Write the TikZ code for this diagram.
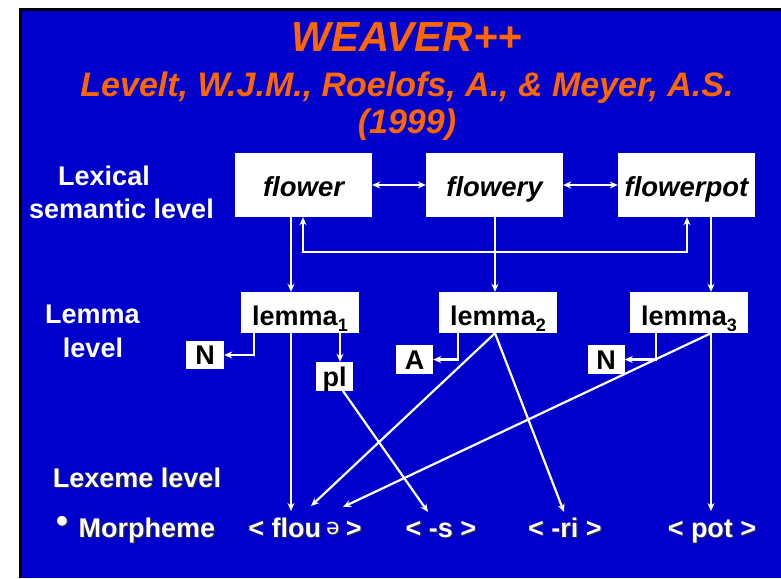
\documentclass[tikz,border=0pt]{standalone}
\usepackage{fontspec}
\setmainfont{Liberation Sans}
\newfontfamily\ipafont{DejaVu Sans}
\usetikzlibrary{arrows.meta}
\definecolor{bgblue}{RGB}{0,0,204}
\definecolor{ttlorange}{RGB}{255,102,0}
\newcommand\shd[1]{\rlap{\kern1.2pt\raisebox{-1.2pt}{\color{black!80}#1}}{#1}}
\newcommand\schwa{{\ipafont\mdseries\fontsize{22}{22}\selectfont\raisebox{2.5pt}{ə}}}
\begin{document}
\begin{tikzpicture}[x=1pt,y=-1pt,
  ttl/.style={text=ttlorange, inner sep=0pt, anchor=base},
  lvl/.style={text=white, font=\bfseries\fontsize{27}{30}\selectfont, inner sep=0pt, anchor=base},
  wordbox/.style={fill=white, inner sep=0pt, minimum width=137pt, minimum height=64pt,
    text height=24pt, text depth=2pt, font=\bfseries\itshape\fontsize{27.5}{30}\selectfont},
  lemmabox/.style={fill=white, inner sep=0pt, minimum width=118pt, minimum height=41pt,
    text height=27pt, text depth=2pt, font=\bfseries\fontsize{27}{30}\selectfont},
  tagbox/.style={fill=white, inner sep=0pt, minimum width=37pt, minimum height=29pt,
    text height=19.5pt, text depth=0pt, font=\bfseries\fontsize{27}{30}\selectfont},
  conn/.style={draw=white, line width=2.2pt, -{Stealth[length=8pt,width=7pt]}},
  dconn/.style={draw=white, line width=2.2pt, {Stealth[length=8pt,width=7pt]}-{Stealth[length=8pt,width=7pt]}},
]
% background and frame
\fill[white] (0,0) rectangle (781,578);
\fill[black] (19,8) rectangle (781,578);
\fill[bgblue] (22,11) rectangle (781,578);

% title
\node[ttl, font=\bfseries\itshape\fontsize{42}{42}\selectfont] (title) at (407,52) {WEAVER++};
\node[ttl, font=\bfseries\itshape\fontsize{34}{34}\selectfont] (authors) at (407,96) {Levelt, W.J.M., Roelofs, A., \& Meyer, A.S.};
\node[ttl, font=\bfseries\itshape\fontsize{34}{34}\selectfont] (year) at (407,133) {(1999)};

% level labels
\node[lvl] (lex1) at (104,185) {Lexical};
\node[lvl] (lex2) at (121.5,218) {semantic level};
\node[lvl] (lem1) at (92.5,323) {Lemma};
\node[lvl] (lem2) at (93,357) {level};
\node[lvl] (lxm) at (137,487) {\shd{Lexeme level}};
\node[lvl, font=\bfseries\fontsize{34}{34}\selectfont] (bul) at (62,532) {\shd{•}};
\node[lvl] (mor) at (147,537) {\shd{Morpheme}};

% lexical semantic boxes
\node[wordbox] (flower) at (303.5,185) {flower};
\node[wordbox] (flowery) at (494.5,185) {flowery};
\node[wordbox] (flowerpot) at (686.5,185) {flowerpot};

% lemma boxes
\node[lemmabox] (lemma1) at (300,312.5) {lemma\raisebox{-6pt}{\fontsize{18}{18}\selectfont 1}};
\node[lemmabox] (lemma2) at (498,312.5) {lemma\raisebox{-6pt}{\fontsize{18}{18}\selectfont 2}};
\node[lemmabox] (lemma3) at (689,312.5) {lemma\raisebox{-6pt}{\fontsize{18}{18}\selectfont 3}};

% syntactic tags
\node[tagbox, minimum width=38pt, minimum height=28pt] (NL) at (205,355) {N};
\node[tagbox] (pl) at (334.5,376.5) {pl};
\node[tagbox] (A) at (414.5,359.5) {A};
\node[tagbox] (NR) at (606,359.5) {N};

% morphemes
\node[lvl] (m1) at (305,537) {\shd{< flou\kern5pt\schwa\kern6pt>}};
\node[lvl] (m2) at (441,537) {\shd{< -s >}};
\node[lvl] (m3) at (565,537) {\shd{< -ri >}};
\node[lvl] (m4) at (712,537) {\shd{< pot >}};

% column coordinates
\coordinate (c1) at (291,0);
\coordinate (c2) at (495,0);
\coordinate (c3) at (711,0);
\coordinate (a1) at (254,0);
\coordinate (a2) at (340,0);
\coordinate (a3) at (458,0);
\coordinate (a4) at (656,0);
\coordinate (lk1) at (303,252);
\coordinate (lk2) at (687,252);
\coordinate (pls) at (343,391);
\coordinate (tA) at (291,511);
\coordinate (tB) at (311,506);
\coordinate (tC) at (343,507);
\coordinate (tD) at (428,512);
\coordinate (tE) at (564,512);
\coordinate (tF) at (711,511);

% lexical level connections
\draw[dconn] (flower.east) -- (flowery.west);
\draw[dconn] (flowery.east) -- (flowerpot.west);
\draw[dconn] (flower.south -| lk1) -- (lk1) -- (lk2) -- (flowerpot.south -| lk2);
\draw[conn] (flower.south -| c1) -- (lemma1.north -| c1);
\draw[conn] (flowery.south -| c2) -- (lemma2.north -| c2);
\draw[conn] (flowerpot.south -| c3) -- (lemma3.north -| c3);

% lemma to tags
\draw[conn] (lemma1.south -| a1) |- (NL.east);
\draw[conn] (lemma1.south -| a2) -- (pl.north -| a2);
\draw[conn] (lemma2.south -| a3) |- (A.east);
\draw[conn] (lemma3.south -| a4) |- (NR.east);

% lemma to morphemes
\draw[conn] (lemma1.south -| c1) -- (tA);
\draw[conn] (lemma2.south -| c2) -- (tB);
\draw[conn] (lemma2.south -| c2) -- (tE);
\draw[conn] (lemma3.south -| c3) -- (tC);
\draw[conn] (lemma3.south -| c3) -- (tF);
\draw[conn] (pls) -- (tD);
\end{tikzpicture}
\end{document}
